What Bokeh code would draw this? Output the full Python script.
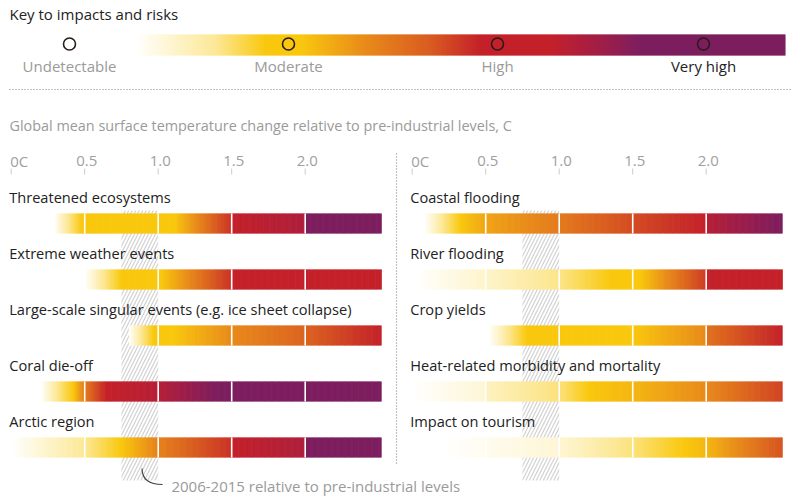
import numpy as np
from bokeh.plotting import figure
from bokeh.models import Range1d
from bokeh.core.properties import value
from bokeh.embed import file_html
from bokeh.resources import INLINE

FONT = "Open Sans"

# ---------------- data ----------------
KEY_TITLE = "Key to impacts and risks"
KEY_LABELS = ["Undetectable", "Moderate", "High", "Very high"]
KEY_LEVELS = [0, 1, 2, 3]
AXIS_TITLE = "Global mean surface temperature change relative to pre-industrial levels, C"
TICK_VALUES = [0, 0.5, 1.0, 1.5, 2.0]
TICK_LABELS = ["0C", "0.5", "1.0", "1.5", "2.0"]
BAR_END = 2.52
SEGMENT_BREAKS = [0.5, 1.0, 1.5, 2.0]
RECENT_WARMING = [0.75, 1.0]
ANNOTATION = "2006-2015 relative to pre-industrial levels"

LEFT_ROWS = ["Threatened ecosystems", "Extreme weather events",
             "Large-scale singular events (e.g. ice sheet collapse)",
             "Coral die-off", "Arctic region"]
RIGHT_ROWS = ["Coastal flooding", "River flooding", "Crop yields",
              "Heat-related morbidity and mortality", "Impact on tourism"]

# risk level along temperature: 0 undetectable, 1 moderate, 2 high, 3 very high
threatened_t = [0.29, 0.48, 1.11, 1.5, 1.5, 2.0, 2.0, 2.52]
threatened_lv = [0.0, 1.0, 1.0, 1.9, 2.0, 2.3, 3.0, 3.0]
extreme_t = [0.5, 0.75, 1.02, 1.5, 1.5, 2.52]
extreme_lv = [0.0, 1.0, 1.0, 1.9, 2.0, 2.0]
singular_t = [0.8, 0.97, 1.1, 1.5, 2.0, 2.52]
singular_lv = [0.0, 1.0, 1.0, 1.35, 1.6, 2.0]
coral_t = [0.2, 0.42, 0.5, 0.65, 1.0, 1.4, 2.52]
coral_lv = [0.0, 1.0, 1.45, 2.0, 2.2, 3.0, 3.0]
arctic_t = [0.0, 0.5, 0.75, 1.0, 1.5, 1.5, 2.0, 2.0, 2.52]
arctic_lv = [0.0, 0.5, 1.0, 1.4, 1.9, 2.0, 2.3, 3.0, 3.0]

coastal_t = [0.08, 0.33, 0.5, 1.0, 1.5, 2.0, 2.0, 2.52]
coastal_lv = [0.0, 1.0, 1.2, 1.45, 1.75, 2.0, 2.2, 3.0]
river_t = [0.02, 0.5, 1.0, 1.35, 1.55, 2.0, 2.0, 2.52]
river_lv = [0.0, 0.25, 0.55, 1.0, 1.0, 1.85, 2.0, 2.0]
crop_t = [0.52, 0.78, 1.5, 2.0, 2.0, 2.52]
crop_lv = [0.0, 1.0, 1.0, 1.35, 1.5, 2.0]
heat_t = [0.0, 0.5, 0.5, 1.0, 1.2, 1.5, 2.0, 2.52]
heat_lv = [0.0, 0.2, 0.3, 0.6, 1.0, 1.1, 1.35, 1.8]
tourism_t = [0.19, 1.0, 1.5, 1.85, 2.0, 2.52]
tourism_lv = [0.0, 0.2, 0.6, 1.0, 1.1, 1.7]

LEFT_PROFILES = [(threatened_t, threatened_lv), (extreme_t, extreme_lv),
                 (singular_t, singular_lv), (coral_t, coral_lv), (arctic_t, arctic_lv)]
RIGHT_PROFILES = [(coastal_t, coastal_lv), (river_t, river_lv), (crop_t, crop_lv),
                  (heat_t, heat_lv), (tourism_t, tourism_lv)]

# colour scale of the key (level -> rgb)
LEVEL_STOPS = [0.0, 0.5, 1.0, 1.35, 1.65, 2.0, 2.5, 3.0]
LEVEL_R = [255, 252, 249, 232, 217, 196, 160, 125]
LEVEL_G = [255, 232, 200, 138, 92, 33, 30, 30]
LEVEL_B = [255, 150, 14, 27, 32, 42, 72, 95]

# key gradient: position along key (px) -> level
KEY_POS = [135, 215, 265, 300, 365, 430, 480, 550, 600, 640, 785]
KEY_LV = [0.0, 0.5, 1.0, 1.0, 1.35, 1.65, 2.0, 2.0, 2.5, 3.0, 3.0]
KEY_CIRCLE_X = [69, 288, 497, 703]

# ---------------- layout ----------------
W, H = 803, 504
PX_PER_C = 147.0
LEFT_ZERO = 10.7
RIGHT_ZERO = 411.7
ROW_TOP0 = 213
ROW_STEP = 56
BAR_H = 20


def level_color(lv):
    r = np.interp(lv, LEVEL_STOPS, LEVEL_R)
    g = np.interp(lv, LEVEL_STOPS, LEVEL_G)
    b = np.interp(lv, LEVEL_STOPS, LEVEL_B)
    return ["#%02x%02x%02x" % (int(round(a)), int(round(c)), int(round(d)))
            for a, c, d in zip(r, g, b)]


p = figure(width=W, height=H, output_backend="svg", toolbar_location=None,
           x_range=Range1d(0, W), y_range=Range1d(H, 0), min_border=0)
p.axis.visible = False
p.grid.visible = False
p.outline_line_color = None
p.background_fill_color = "white"
p.border_fill_color = "white"
p.extra_x_ranges = {
    "L": Range1d((0 - LEFT_ZERO) / PX_PER_C, (W - LEFT_ZERO) / PX_PER_C),
    "R": Range1d((0 - RIGHT_ZERO) / PX_PER_C, (W - RIGHT_ZERO) / PX_PER_C),
}

# ---- key ----
p.text(x=[9], y=[13.5], text=[KEY_TITLE], text_font=value(FONT), text_font_size="15px",
       text_color="#222222", text_baseline="middle", text_align="left")
kx = np.arange(KEY_POS[0], KEY_POS[-1], 1.0)
klv = np.interp(kx + 0.5, KEY_POS, KEY_LV)
p.quad(left=kx, right=np.minimum(kx + 1.6, KEY_POS[-1]), top=34, bottom=55,
       fill_color=level_color(klv), line_color=None)
p.scatter(x=KEY_CIRCLE_X, y=[43.5] * 4, size=12, marker="circle", fill_alpha=0,
          line_color="#2a1a1a", line_width=1.6)
p.text(x=KEY_CIRCLE_X, y=[65] * 4, text=KEY_LABELS, text_font=value(FONT),
       text_font_size="15px", text_color=["#9a9a9a", "#9a9a9a", "#9a9a9a", "#222222"],
       text_align="center", text_baseline="middle")
p.segment(x0=[9], y0=[89], x1=[790], y1=[89], line_color="#888888",
          line_width=1.2, line_dash="1 2")

p.text(x=[9], y=[125], text=[AXIS_TITLE], text_font=value(FONT), text_font_size="14.4px",
       text_color="#9a9a9a", text_align="left", text_baseline="middle")

# panel divider
p.segment(x0=[396], y0=[153], x1=[396], y1=[465], line_color="#888888",
          line_width=1.2, line_dash="1 2")

for rng, rows, profiles in (("L", LEFT_ROWS, LEFT_PROFILES), ("R", RIGHT_ROWS, RIGHT_PROFILES)):
    # hatched recent-warming band
    p.quad(left=[RECENT_WARMING[0]], right=[RECENT_WARMING[1]], top=[210], bottom=[480],
           x_range_name=rng, fill_alpha=0, line_color=None, hatch_pattern="/",
           hatch_color="#d2d2d2", hatch_scale=7, hatch_weight=1.2)
    # axis ticks
    p.text(x=TICK_VALUES, y=[160] * 5, text=TICK_LABELS, x_range_name=rng,
           text_font=value(FONT), text_font_size="15px", text_color="#a0a0a0",
           text_align=["left", "center", "center", "center", "center"],
           x_offset=[-1, 2, 2, 2, 2], text_baseline="middle")
    p.segment(x0=TICK_VALUES, y0=[168] * 5, x1=TICK_VALUES, y1=[174] * 5,
              x_range_name=rng, line_color="#cccccc", line_width=1)
    for i, (name, (ts, lvs)) in enumerate(zip(rows, profiles)):
        top = ROW_TOP0 + i * ROW_STEP
        step = 0.008
        xs = np.arange(ts[0], BAR_END, step)
        lv = np.interp(xs + step / 2, ts, lvs)
        p.quad(left=xs, right=np.minimum(xs + step * 1.6, BAR_END), top=top,
               bottom=top + BAR_H, x_range_name=rng, fill_color=level_color(lv),
               line_color=None)
        p.segment(x0=SEGMENT_BREAKS, y0=[top] * 4, x1=SEGMENT_BREAKS,
                  y1=[top + BAR_H] * 4, x_range_name=rng, line_color="white",
                  line_width=1.6)
        p.text(x=[0], y=[top - 16.5], text=[name], x_range_name=rng, x_offset=-2,
               text_font=value(FONT), text_font_size="14.6px", text_color="#222222",
               text_align="left", text_baseline="middle")

# annotation for the hatched band
p.quadratic(x0=[0.89], y0=[468], x1=[1.03], y1=[484], cx=[0.89], cy=[484],
            x_range_name="L", line_color="#444444", line_width=1.2)
p.text(x=[1.09], y=[485], text=[ANNOTATION], x_range_name="L", text_font=value(FONT),
       text_font_size="15px", text_color="#9a9a9a", text_align="left",
       text_baseline="middle")

open("out.html", "w").write(file_html(p, INLINE))
